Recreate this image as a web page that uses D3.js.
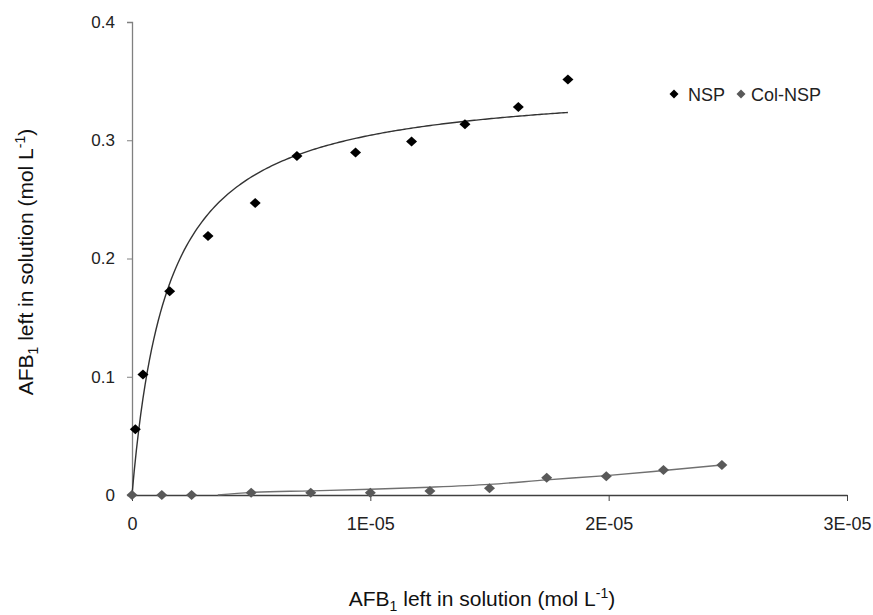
<!DOCTYPE html>
<html>
<head>
<meta charset="utf-8">
<script src="https://cdn.jsdelivr.net/npm/d3@7"></script>
<style>
  body { margin: 0; background: #fff; }
  svg { font-family: "Liberation Sans", Arial, sans-serif; }
</style>
</head>
<body>
<div class="canvas"></div>
<script>
const width = 873;
const height = 615;

// data
const nspX = [1.4e-7, 4.6e-7, 1.58e-6, 3.19e-6, 5.17e-6, 6.92e-6, 9.38e-6, 1.173e-5, 1.397e-5, 1.621e-5, 1.829e-5];
const nspY = [0.0555, 0.102, 0.1724, 0.219, 0.247, 0.2866, 0.2897, 0.299, 0.3136, 0.3282, 0.3514];

const colX = [0, 1.25e-6, 2.5e-6, 5.0e-6, 7.5e-6, 1.0e-5, 1.25e-5, 1.5e-5, 1.74e-5, 1.99e-5, 2.23e-5, 2.475e-5];
const colY = [0, 0, 0, 0.002, 0.002, 0.002, 0.0034, 0.0057, 0.0146, 0.0158, 0.0211, 0.0254];

// Langmuir trendline for NSP (fit parameters)
const nspQmax = 0.3503;
const nspK = 6.6e5;
const nspFitEnd = 1.829e-5;

// Col-NSP trendline
const colTrendX = [3.6e-6, 5.0e-6, 7.5e-6, 1.0e-5, 1.25e-5, 1.5e-5, 1.74e-5, 1.99e-5, 2.23e-5, 2.475e-5];
const colTrendY = [0, 0.0022, 0.0035, 0.0049, 0.0066, 0.0090, 0.0128, 0.0164, 0.0207, 0.0254];

const xTicks = [0, 1e-5, 2e-5, 3e-5];
const xTickLabels = ["0", "1E-05", "2E-05", "3E-05"];
const yTicks = [0, 0.1, 0.2, 0.3, 0.4];
const yTickLabels = ["0", "0.1", "0.2", "0.3", "0.4"];

const seriesNames = ["NSP", "Col-NSP"];
const seriesColors = ["#000000", "#595959"];

const svg = d3.select(".canvas")
  .append("svg")
  .attr("width", width)
  .attr("height", height);

const margin = { top: 22, right: 26, bottom: 120, left: 132 };
const graphWidth = 847 - margin.left;
const graphHeight = 495 - margin.top;

const graph = svg.append("g")
  .attr("transform", `translate(${margin.left}, ${margin.top})`);

const xScale = d3.scaleLinear().domain([0, 3e-5]).range([0, graphWidth]);
const yScale = d3.scaleLinear().domain([0, 0.4]).range([graphHeight, 0]);

// y axis
const yAxis = d3.axisLeft(yScale)
  .tickValues(yTicks)
  .tickFormat((d, i) => yTickLabels[i])
  .tickSize(5)
  .tickPadding(12);

const yg = graph.append("g").call(yAxis);
yg.select(".domain").attr("stroke", "#808080").attr("stroke-width", 1.3);
yg.selectAll(".tick line").attr("stroke", "#808080");
yg.selectAll(".tick text")
  .attr("font-size", 17)
  .attr("fill", "#222")
  .attr("font-family", "Liberation Sans, Arial, sans-serif");

// x axis
const xAxis = d3.axisBottom(xScale)
  .tickValues(xTicks)
  .tickFormat((d, i) => xTickLabels[i])
  .tickSize(6)
  .tickSizeOuter(0)
  .tickPadding(16);

const xg = graph.append("g")
  .attr("transform", `translate(0, ${graphHeight})`)
  .call(xAxis);
xg.select(".domain").attr("stroke", "#404040").attr("stroke-width", 1.3);
xg.selectAll(".tick line").attr("stroke", "#404040");
xg.selectAll(".tick text")
  .attr("font-size", 18)
  .attr("fill", "#222")
  .attr("font-family", "Liberation Sans, Arial, sans-serif");

// trendlines
const fitXs = d3.range(0, 201).map(i => nspFitEnd * i / 200);
const nspLine = d3.line()
  .x(d => xScale(d))
  .y(d => yScale(nspQmax * nspK * d / (1 + nspK * d)));

graph.append("path")
  .datum(fitXs)
  .attr("d", nspLine)
  .attr("fill", "none")
  .attr("stroke", "#333")
  .attr("stroke-width", 1.4);

const colLine = d3.line()
  .x((d, i) => xScale(colTrendX[i]))
  .y(d => yScale(d))
  .curve(d3.curveMonotoneX);

graph.append("path")
  .datum(colTrendY)
  .attr("d", colLine)
  .attr("fill", "none")
  .attr("stroke", "#707070")
  .attr("stroke-width", 1.4);

// markers
const diamond = "M0,-5L5.5,0L0,5L-5.5,0Z";

graph.selectAll(".col")
  .data(colY)
  .enter()
  .append("path")
  .attr("class", "col")
  .attr("d", diamond)
  .attr("fill", seriesColors[1])
  .attr("transform", (d, i) => `translate(${xScale(colX[i])}, ${yScale(d)})`);

graph.selectAll(".nsp")
  .data(nspY)
  .enter()
  .append("path")
  .attr("class", "nsp")
  .attr("d", diamond)
  .attr("fill", seriesColors[0])
  .attr("transform", (d, i) => `translate(${xScale(nspX[i])}, ${yScale(d)})`);

// legend
const legend = svg.append("g").attr("transform", "translate(674, 94)");
const legendOffsets = [0, 67];
seriesNames.forEach((name, i) => {
  const item = legend.append("g").attr("transform", `translate(${legendOffsets[i]}, 0)`);
  item.append("path").attr("d", "M0,-4.5L4.5,0L0,4.5L-4.5,0Z").attr("fill", seriesColors[i]);
  item.append("text")
    .attr("x", i === 0 ? 14 : 10)
    .attr("y", 7)
    .attr("font-size", 18)
    .attr("fill", "#222")
    .text(name);
});

// axis titles
function axisTitle(g) {
  g.append("tspan").text("AFB");
  g.append("tspan").attr("font-size", 14).attr("dy", 5).text("1");
  g.append("tspan").attr("dy", -5).text(" left in solution (mol L");
  g.append("tspan").attr("font-size", 14).attr("dy", -8).text("-1");
  g.append("tspan").attr("dy", 8).text(")");
}

svg.append("text")
  .attr("x", 482)
  .attr("y", 606)
  .attr("text-anchor", "middle")
  .attr("font-size", 21)
  .attr("fill", "#111")
  .call(axisTitle);

svg.append("text")
  .attr("transform", "translate(33, 262) rotate(-90)")
  .attr("text-anchor", "middle")
  .attr("font-size", 21)
  .attr("fill", "#111")
  .call(axisTitle);
</script>
</body>
</html>
